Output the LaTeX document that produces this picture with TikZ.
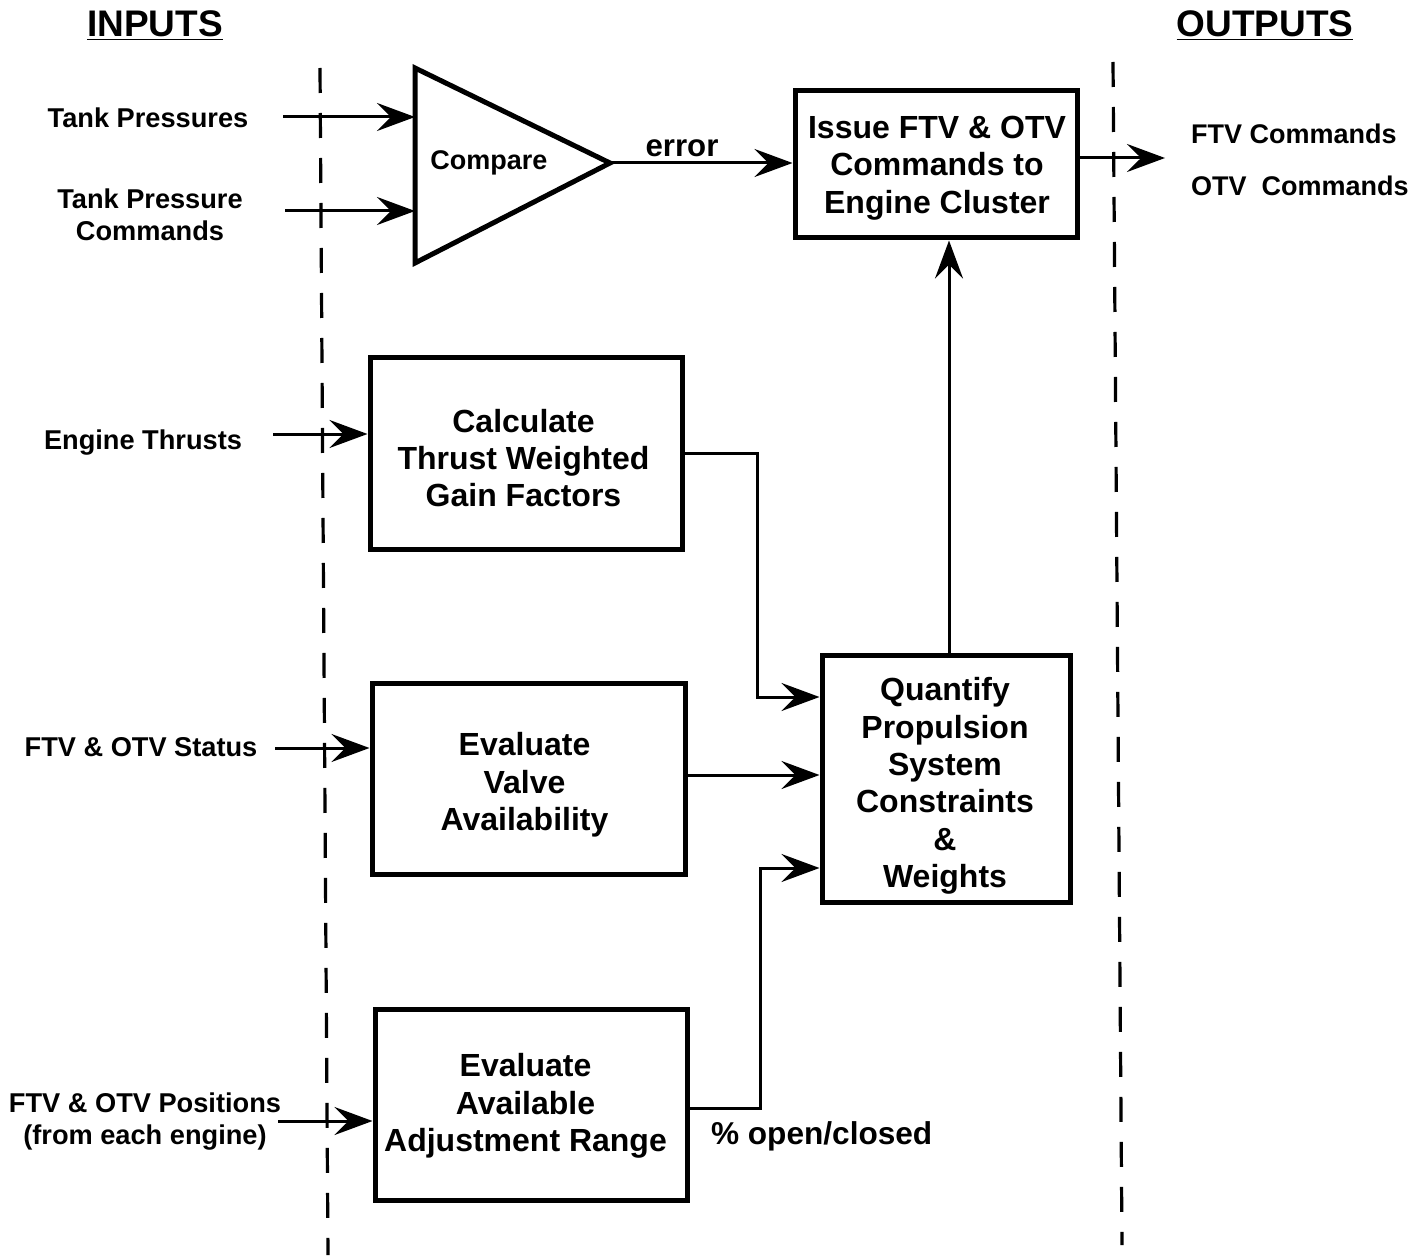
\documentclass[tikz,border=0pt]{standalone}
\usepackage{fontspec}
\setmainfont{Liberation Sans}
\usetikzlibrary{arrows.meta}
\begin{document}
\begin{tikzpicture}[x=0.5pt,y=-0.5pt,
  font=\bfseries,
  box/.style={draw, line width=2.5pt, inner sep=0pt},
  boxtext/.style={align=center, font=\fontsize{16}{18.7}\selectfont\bfseries, inner sep=0pt},
  inlabel/.style={align=center, font=\fontsize{13.6}{16}\selectfont\bfseries},
  outlabel/.style={anchor=west, font=\fontsize{13.5}{15}\selectfont\bfseries},
  arr/.style={line width=1.5pt, -{Stealth[length=19pt, width=14pt, inset=7pt]}},
  boundary/.style={line width=1.6pt, dash pattern=on 12.5pt off 10pt},
  title/.style={font=\fontsize{18.5}{22}\selectfont\bfseries}]
\useasboundingbox (0,0) rectangle (1413,1257);

% column headings
\node[title] (inputs) at (155,26) {\underline{INPUTS}};
\node[title] (outputs) at (1265,26) {\underline{OUTPUTS}};

% input / output boundaries
\draw[boundary] (320,68) -- (328,1255);
\draw[boundary] (1113,62) -- (1122,1245);

% comparator
\draw[line width=2.5pt, line join=miter] (415,68) -- (610,163) -- (415,263) -- cycle;
\node[inlabel, font=\fontsize{13.5}{16}\selectfont\bfseries] (cmp) at (489,163) {Compare};
\coordinate (cmp-in1) at (415,117);
\coordinate (cmp-in2) at (415,211);
\coordinate (cmp-out) at (610,163);

% processing blocks
\node[box, minimum width=141pt, minimum height=73.5pt] (issue) at (936,164.5) {};
\node[boxtext] (issue-t) at (937,168) {Issue FTV \& OTV\\Commands to\\Engine Cluster};
\node[box, minimum width=156pt, minimum height=96pt] (calc) at (526,453) {};
\node[boxtext] (calc-t) at (523.5,458) {Calculate\\Thrust Weighted\\Gain Factors};
\node[box, minimum width=156.5pt, minimum height=95.5pt] (valve) at (528.5,778.5) {};
\node[boxtext] (valve-t) at (524.5,785) {Evaluate\\Valve\\Availability};
\node[box, minimum width=156pt, minimum height=95.5pt] (range) at (531,1104.5) {};
\node[boxtext] (range-t) at (525.5,1106) {Evaluate\\Available\\Adjustment Range};
\node[box, minimum width=124pt, minimum height=123.5pt] (quant) at (946,778.5) {};
\node[boxtext] (quant-t) at (945,786) {Quantify\\Propulsion\\System\\Constraints\\\&\\Weights};

% input labels
\node[inlabel] (tp) at (148,118) {Tank Pressures};
\node[inlabel] (tpc) at (150,215) {Tank Pressure\\Commands};
\node[inlabel] (et) at (143,443) {Engine Thrusts};
\node[inlabel] (st) at (141,747) {FTV \& OTV Status};
\node[inlabel] (pos) at (145,1122) {FTV \& OTV Positions\\(from each engine)};

% output labels
\node[outlabel] (ftvc) at (1184,134) {FTV Commands};
\node[outlabel] (otvc) at (1184,186) {OTV\ \ Commands};

% inputs
\coordinate (tp-s) at (283,117);
\coordinate (tpc-s) at (285,211);
\coordinate (et-s) at (273,434);
\coordinate (st-s) at (275,748);
\coordinate (pos-s) at (278,1121);
\draw[arr] (tp-s) -- (cmp-in1);
\draw[arr] (tpc-s) -- (cmp-in2);
\draw[arr] (et-s) -- (calc.west |- et-s);
\draw[arr] (st-s) -- (valve.west |- st-s);
\draw[arr] (pos-s) -- (range.west |- pos-s);

% error signal
\draw[arr] (cmp-out) -- (issue.west |- cmp-out);
\node[font=\fontsize{15.6}{18}\selectfont\bfseries] (err) at (682,148) {error};

% gain factors, valve availability and adjustment range into the constraint block
\coordinate (g1) at (757,453);
\coordinate (g2) at (757,697);
\draw[arr, line join=miter] (calc.east |- g1) -- (g1) -- (g2) -- (quant.west |- g2);
\draw[arr] (valve.east |- 0,775) -- (quant.west |- 0,775);
\coordinate (r1) at (760,1108);
\coordinate (r2) at (760,868);
\draw[arr, line join=miter] (range.east |- r1) -- (r1) -- (r2) -- (quant.west |- r2);
\node[anchor=west, font=\fontsize{15.8}{18}\selectfont\bfseries] (pct) at (704,1136) {\% open/closed};

% constraints up to command issue, commands out
\draw[arr] (quant.north -| 949,0) -- (issue.south -| 949,0);
\coordinate (out-e) at (1165,158);
\draw[arr] (issue.east |- out-e) -- (out-e);
\end{tikzpicture}
\end{document}
